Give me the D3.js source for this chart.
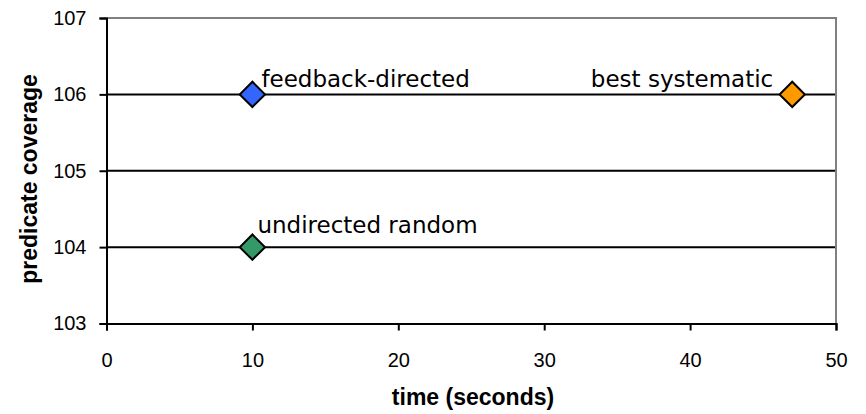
<!DOCTYPE html>
<html><head><meta charset="utf-8">
<script src="https://cdn.jsdelivr.net/npm/d3@7"></script>
<style>body{margin:0;background:#fff}</style>
</head><body>
<svg id="c" width="866" height="414"></svg>
<script>
const series = ["feedback-directed", "undirected random", "best systematic"];
const timeValues = [10, 10, 47];
const coverageValues = [106, 104, 106];
const colors = ["#3366FF", "#339966", "#FF9900"];
const xTicks = [0, 10, 20, 30, 40, 50];
const yTicks = [103, 104, 105, 106, 107];

const svg = d3.select("#c");
const L = 106.5, R = 836, T = 18, B = 323.5;
const x = d3.scaleLinear().domain([0, 50]).range([L, R]);
const y = d3.scaleLinear().domain([103, 107]).range([B, T]);

// gridlines
svg.append("g").selectAll("line").data(yTicks.slice(1, 4)).join("line")
  .attr("x1", L).attr("x2", R).attr("y1", d => y(d)).attr("y2", d => y(d))
  .attr("stroke", "#000").attr("stroke-width", 2);
// top/right border
svg.append("path").attr("d", `M${L},${T}H${R}V${B}`).attr("fill", "none")
  .attr("stroke", "#808080").attr("stroke-width", 2);

const yAxis = svg.append("g").attr("transform", `translate(${L},0)`)
  .call(d3.axisLeft(y).tickValues(yTicks).tickFormat(d3.format("d")).tickSize(7).tickPadding(13));
const xAxis = svg.append("g").attr("transform", `translate(0,${B})`)
  .call(d3.axisBottom(x).tickValues(xTicks).tickFormat(d3.format("d")).tickSize(7).tickPadding(22));
[yAxis, xAxis].forEach(g => {
  g.select(".domain").attr("stroke", "#000").attr("stroke-width", 2);
  g.selectAll(".tick line").attr("stroke", "#000").attr("stroke-width", 2);
  g.selectAll("text").attr("font-family", "Liberation Sans, Arial, sans-serif").attr("font-size", 20).attr("fill", "#000");
});

// points
const sym = d3.symbol().type(d3.symbolSquare).size(320);
svg.append("g").selectAll("path").data(series).join("path")
  .attr("d", sym)
  .attr("transform", (d, i) => `translate(${x(timeValues[i])},${y(coverageValues[i])}) rotate(45)`)
  .attr("fill", (d, i) => colors[i]).attr("stroke", "#000").attr("stroke-width", 2);

// labels
const lab = svg.append("g").attr("font-family", "DejaVu Sans, Verdana, sans-serif").attr("font-size", 23).attr("fill", "#000");
lab.append("text").attr("x", x(timeValues[0]) + 9).attr("y", y(coverageValues[0]) - 7).text(series[0]);
lab.append("text").attr("x", x(timeValues[1]) + 5).attr("y", y(coverageValues[1]) - 14).text(series[1]);
lab.append("text").attr("x", x(timeValues[2]) - 19).attr("y", y(coverageValues[2]) - 7).attr("text-anchor", "end").text(series[2]);

// axis titles
svg.append("text").attr("x", 473).attr("y", 405).attr("text-anchor", "middle")
  .attr("font-family", "Liberation Sans, Arial, sans-serif").attr("font-weight", "bold").attr("font-size", 23).text("time (seconds)");
svg.append("text").attr("transform", `translate(37,179) rotate(-90)`).attr("text-anchor", "middle")
  .attr("font-family", "Liberation Sans, Arial, sans-serif").attr("font-weight", "bold").attr("font-size", 23).text("predicate coverage");
</script>
</body></html>
